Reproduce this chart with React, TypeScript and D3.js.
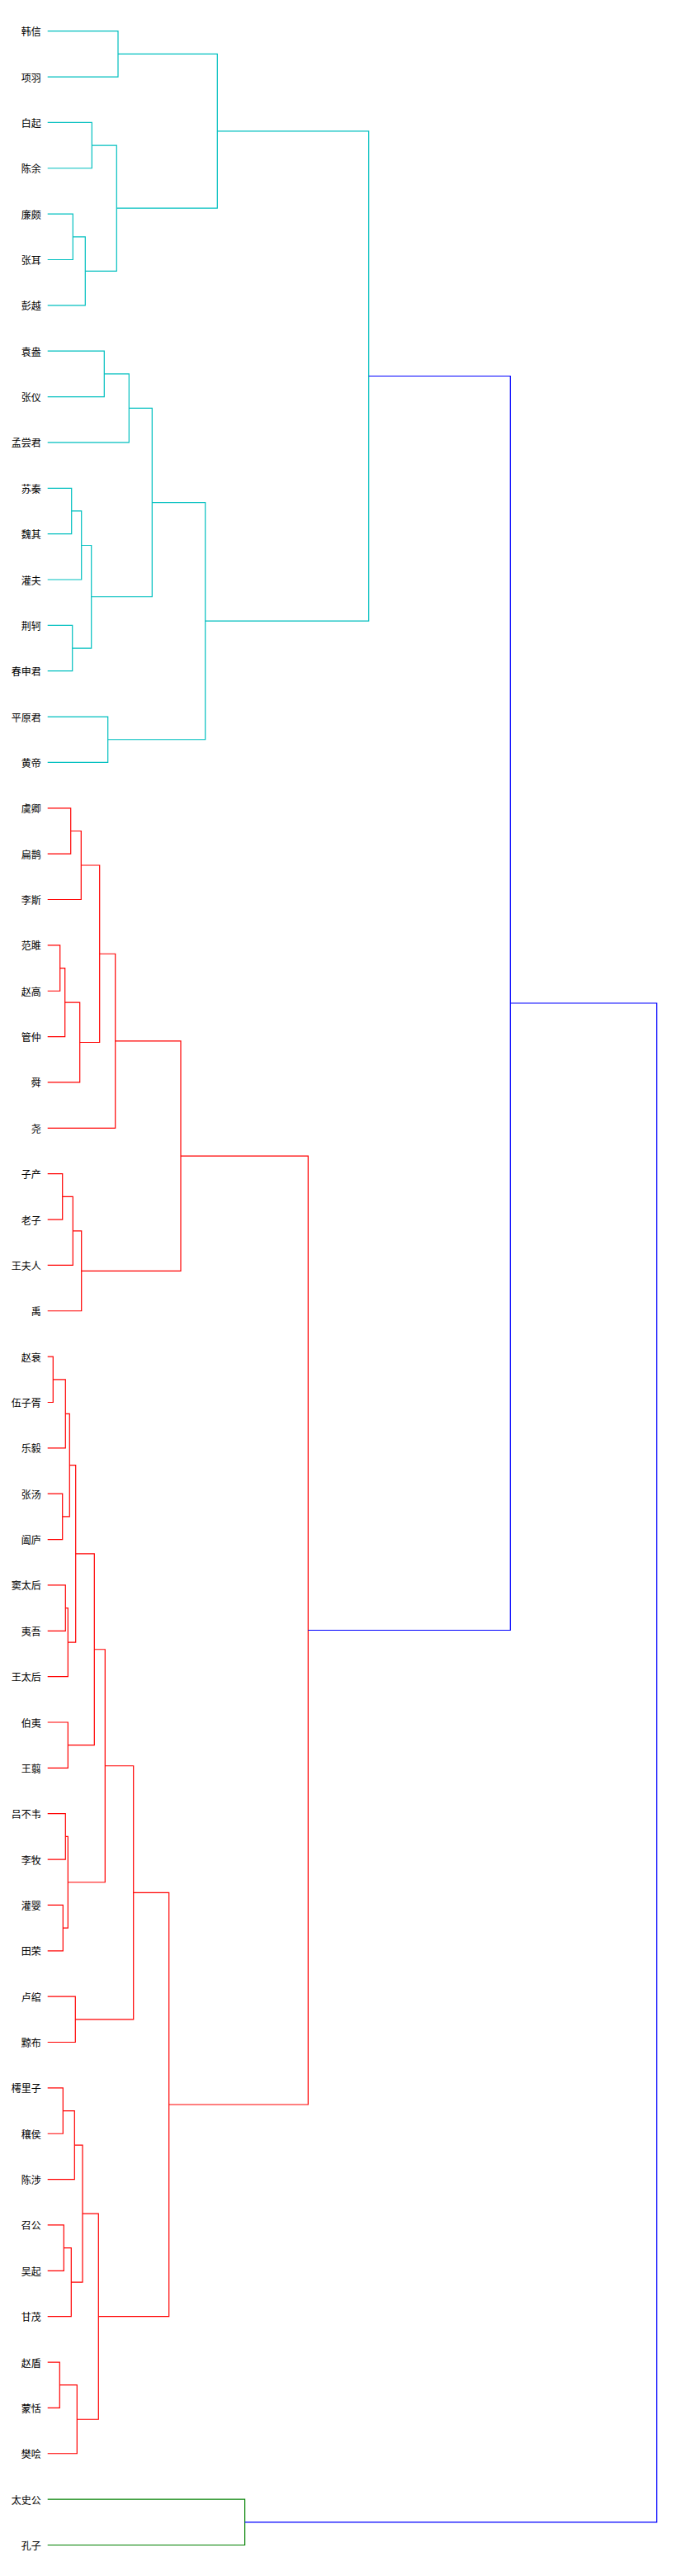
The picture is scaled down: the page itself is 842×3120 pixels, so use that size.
import { useRef, useEffect } from "react";
import * as d3 from "d3";

// leaves, top to bottom
const leaves = [
  "韩信", "项羽", "白起", "陈余", "廉颇", "张耳", "彭越", "袁盎", "张仪", "孟尝君",
  "苏秦", "魏其", "灌夫", "荆轲", "春申君", "平原君", "黄帝", "虞卿", "扁鹊", "李斯",
  "范雎", "赵高", "管仲", "舜", "尧", "子产", "老子", "王夫人", "禹", "赵衰",
  "伍子胥", "乐毅", "张汤", "阖庐", "窦太后", "夷吾", "王太后", "伯夷", "王翦", "吕不韦",
  "李牧", "灌婴", "田荣", "卢绾", "黥布", "樗里子", "穰侯", "陈涉", "召公", "吴起",
  "甘茂", "赵盾", "蒙恬", "樊哙", "太史公", "孔子",
];

// [id, left, right, distance]
const merges: [string, string, string, number][] = [
  ["A", "韩信", "项羽", 85.3],
  ["B", "白起", "陈余", 53.6],
  ["C", "廉颇", "张耳", 30.6],
  ["D", "C", "彭越", 45.6],
  ["E", "B", "D", 83.6],
  ["F", "A", "E", 205.6],
  ["G", "袁盎", "张仪", 68.6],
  ["H", "G", "孟尝君", 98.6],
  ["I", "苏秦", "魏其", 29],
  ["J", "I", "灌夫", 41],
  ["K", "荆轲", "春申君", 30],
  ["L", "J", "K", 53],
  ["M", "H", "L", 126.6],
  ["N", "平原君", "黄帝", 73],
  ["O", "M", "N", 191],
  ["P", "F", "O", 389],
  ["Q", "虞卿", "扁鹊", 28],
  ["R", "Q", "李斯", 40.6],
  ["S", "范雎", "赵高", 15],
  ["T", "S", "管仲", 21],
  ["U", "T", "舜", 39],
  ["V", "R", "U", 63],
  ["W", "V", "尧", 82],
  ["X", "子产", "老子", 18],
  ["Y", "X", "王夫人", 30.6],
  ["Z", "Y", "禹", 41],
  ["AA", "W", "Z", 161.3],
  ["a", "赵衰", "伍子胥", 6.6],
  ["b", "a", "乐毅", 21.6],
  ["c", "张汤", "阖庐", 18],
  ["d", "b", "c", 26.6],
  ["e", "窦太后", "夷吾", 21.6],
  ["f", "e", "王太后", 24.6],
  ["g", "d", "f", 34],
  ["h", "伯夷", "王翦", 24.6],
  ["i", "g", "h", 56.6],
  ["j", "吕不韦", "李牧", 21.6],
  ["k", "灌婴", "田荣", 18.6],
  ["l", "j", "k", 24.6],
  ["m", "i", "l", 69.6],
  ["n", "卢绾", "黥布", 33.6],
  ["o", "m", "n", 104],
  ["p", "樗里子", "穰侯", 18.6],
  ["q", "p", "陈涉", 32.6],
  ["r", "召公", "吴起", 19.6],
  ["s", "r", "甘茂", 28.6],
  ["t", "q", "s", 42.3],
  ["u", "赵盾", "蒙恬", 14.6],
  ["v", "u", "樊哙", 35.6],
  ["w", "t", "v", 61.6],
  ["x", "o", "w", 147],
  ["BB", "AA", "x", 315.6],
  ["CC", "P", "BB", 560.6],
  ["GR", "太史公", "孔子", 238.9],
  ["root", "CC", "GR", 738],
];

const palette = ["#008000", "#ff0000", "#00bfbf", "#bf00bf", "#bfbf00", "#000000"];
const aboveColor = "#0000ff";

const W = 842;
const H = 3120;

export default function App() {
  const svgRef = useRef<SVGSVGElement>(null);

  useEffect(() => {
    document.body.style.margin = "0";
    const svg = d3.select(svgRef.current);
    svg.selectAll("*").remove();

    const maxH = d3.max(merges, (m) => m[3]) || 1;
    const threshold = 0.7 * maxH;

    const x = d3
      .scaleLinear()
      .domain([0, maxH * 1.05])
      .range([57.7, 57.7 + 738 * 1.05]);
    const y = d3
      .scaleLinear()
      .domain([0, leaves.length * 10])
      .range([10, 10 + leaves.length * 55.36]);

    // node positions
    const pos = new Map<string, number>();
    const hgt = new Map<string, number>();
    const kids = new Map<string, [string, string]>();
    leaves.forEach((l, i) => {
      pos.set(l, 5 + 10 * i);
      hgt.set(l, 0);
    });
    merges.forEach(([id, a, b, d]) => {
      kids.set(id, [a, b]);
      hgt.set(id, d);
    });
    const place = (id: string): number => {
      if (pos.has(id)) return pos.get(id)!;
      const [a, b] = kids.get(id)!;
      const p = (place(a) + place(b)) / 2;
      pos.set(id, p);
      return p;
    };
    merges.forEach((m) => place(m[0]));

    // clusters below threshold
    const colorOf = new Map<string, string>();
    const leavesOf = (id: string): number[] =>
      kids.has(id)
        ? kids.get(id)!.flatMap(leavesOf)
        : [leaves.indexOf(id)];
    const clusterRoots: string[] = [];
    const findClusters = (id: string) => {
      if (!kids.has(id)) return;
      if (hgt.get(id)! < threshold) clusterRoots.push(id);
      else kids.get(id)!.forEach(findClusters);
    };
    findClusters("root");
    clusterRoots
      .sort((a, b) => d3.max(leavesOf(b))! - d3.max(leavesOf(a))!)
      .forEach((cid, ci) => {
        const col = palette[ci % palette.length];
        const paint = (id: string) => {
          if (!kids.has(id)) return;
          colorOf.set(id, col);
          kids.get(id)!.forEach(paint);
        };
        paint(cid);
      });

    const links = merges.map(([id, a, b, d]) => {
      const path = d3.path();
      path.moveTo(x(hgt.get(a)!), y(pos.get(a)!));
      path.lineTo(x(d), y(pos.get(a)!));
      path.lineTo(x(d), y(pos.get(b)!));
      path.lineTo(x(hgt.get(b)!), y(pos.get(b)!));
      return { id, d: path.toString(), color: colorOf.get(id) || aboveColor };
    });

    svg
      .append("g")
      .selectAll("path")
      .data(links)
      .join("path")
      .attr("d", (l) => l.d)
      .attr("fill", "none")
      .attr("stroke", (l) => l.color)
      .attr("stroke-width", 1.2);

    svg
      .append("g")
      .selectAll("text")
      .data(leaves)
      .join("text")
      .attr("x", x(0) - 8)
      .attr("y", (l) => y(pos.get(l)!))
      .attr("text-anchor", "end")
      .attr("dominant-baseline", "central")
      .attr("font-family", "'Noto Sans CJK SC', sans-serif")
      .attr("font-size", 12)
      .attr("fill", "#000")
      .text((l) => l);
  }, []);

  return (
    <svg
      ref={svgRef}
      width={W}
      height={H}
      style={{ position: "absolute", left: 0, top: 0, background: "#fff" }}
    />
  );
}
